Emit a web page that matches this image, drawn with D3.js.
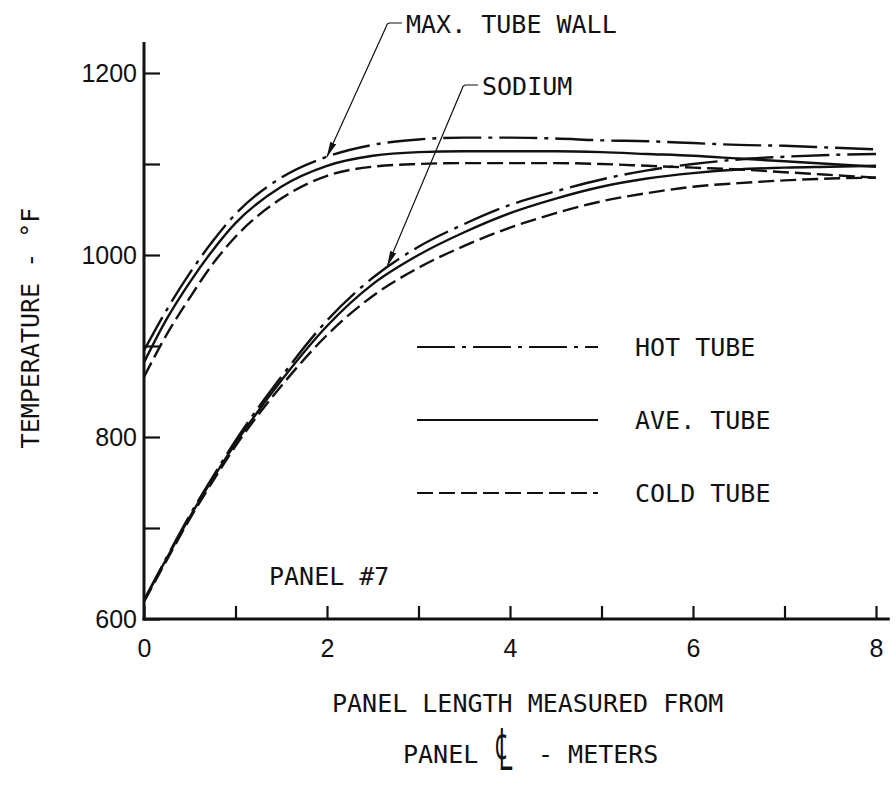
<!DOCTYPE html>
<html>
<head>
<meta charset="utf-8">
<script src="https://cdn.jsdelivr.net/npm/d3@7"></script>
<style>
  body { margin: 0; background: #fff; }
  svg { display: block; }
  .lettering { font-family: "DejaVu Sans Mono", monospace; font-size: 25px; fill: #111; }
  .num { font-family: "Liberation Sans", Arial, sans-serif; font-size: 25px; fill: #111; }
</style>
</head>
<body>
<svg width="896" height="786"></svg>
<script>
(function () {
  'use strict';

  const svg = d3.select('svg');

  // panel length, meters
  const panelX = [0, 0.25, 0.5, 0.75, 1, 1.5, 2, 2.5, 3, 3.5, 4, 4.5, 5, 5.5, 6, 6.5, 7, 7.5, 8];

  // max. tube wall temperature, deg F
  const wallHot  = [895, 940, 980, 1015, 1045, 1085, 1108, 1121, 1127, 1129, 1129, 1128, 1126, 1125, 1123, 1121, 1120, 1118, 1116];
  const wallAve  = [882, 930, 970, 1005, 1035, 1075, 1098, 1109, 1113, 1114, 1114, 1114, 1113, 1111, 1109, 1106, 1103, 1100, 1097];
  const wallCold = [866, 913, 953, 990, 1020, 1062, 1087, 1097, 1100, 1101, 1101, 1101, 1100, 1098, 1096, 1094, 1091, 1088, 1085];

  // sodium temperature, deg F
  const naHot  = [621, 668, 714, 756, 796, 866, 928, 975, 1009, 1034, 1055, 1070, 1083, 1093, 1100, 1105, 1108, 1110, 1111];
  const naAve  = [620, 667, 712, 754, 793, 862, 922, 968, 1000, 1025, 1046, 1062, 1075, 1084, 1090, 1094, 1096, 1097, 1098];
  const naCold = [619, 665, 710, 751, 790, 856, 912, 955, 986, 1010, 1030, 1046, 1059, 1068, 1075, 1079, 1082, 1084, 1085];

  const xTicks = [0, 1, 2, 3, 4, 5, 6, 7, 8];
  const xLabels = [0, 2, 4, 6, 8];
  const yTicks = [600, 700, 800, 900, 1000, 1100, 1200];
  const yLabels = [600, 800, 1000, 1200];

  const legendNames = ['HOT TUBE', 'AVE. TUBE', 'COLD TUBE'];
  const dash = { hot: '38,7,4,7', ave: null, cold: '16,6' };

  const x = d3.scaleLinear().domain([0, 8]).range([144, 876]);
  const y = d3.scaleLinear().domain([600, 1200]).range([619, 73]);

  const series = [
    { vals: wallHot, kind: 'hot' }, { vals: wallAve, kind: 'ave' }, { vals: wallCold, kind: 'cold' },
    { vals: naHot, kind: 'hot' }, { vals: naAve, kind: 'ave' }, { vals: naCold, kind: 'cold' }
  ];

  const line = d3.line()
    .x(d => x(d[0]))
    .y(d => y(d[1]))
    .curve(d3.curveMonotoneX);

  svg.selectAll('path.curve').data(series).enter()
    .append('path')
      .attr('class', 'curve')
      .attr('d', s => line(panelX.map((v, i) => [v, s.vals[i]])))
      .attr('fill', 'none')
      .attr('stroke', '#111')
      .attr('stroke-width', 2.4)
      .attr('stroke-dasharray', s => dash[s.kind]);

  // axes
  const yAxisG = svg.append('g')
    .attr('transform', `translate(${x(0)},0)`)
    .call(d3.axisLeft(y).tickValues(yTicks).tickSize(-16).tickPadding(7)
      .tickFormat(d => yLabels.includes(d) ? d : ''));
  const xAxisG = svg.append('g')
    .attr('transform', `translate(0,${y(600)})`)
    .call(d3.axisBottom(x).tickValues(xTicks).tickSize(-13).tickPadding(20)
      .tickFormat(d => xLabels.includes(d) ? d : ''));

  [yAxisG, xAxisG].forEach(g => {
    g.select('.domain').remove();
    g.selectAll('.tick line').attr('stroke', '#111').attr('stroke-width', 2.2);
    g.selectAll('.tick text').attr('class', 'num').attr('fill', '#111');
  });
  xAxisG.selectAll('.tick text').attr('dy', '0.71em');

  svg.append('line')
    .attr('x1', x(0)).attr('x2', x(0))
    .attr('y1', y(600) + 1.5).attr('y2', y(1234))
    .attr('stroke', '#111').attr('stroke-width', 3);
  svg.append('line')
    .attr('x1', x(0) - 1.5).attr('x2', x(8.15))
    .attr('y1', y(600)).attr('y2', y(600))
    .attr('stroke', '#111').attr('stroke-width', 3);

  // axis titles
  svg.append('text')
    .attr('class', 'lettering')
    .attr('text-anchor', 'middle')
    .attr('transform', 'translate(39,328) rotate(-90)')
    .text('TEMPERATURE - °F');

  svg.append('text').attr('class', 'lettering')
    .attr('x', 332).attr('y', 712)
    .text('PANEL LENGTH MEASURED FROM');
  svg.append('text').attr('class', 'lettering')
    .attr('x', 403).attr('y', 763)
    .text('PANEL');
  svg.append('text').attr('class', 'lettering')
    .attr('text-anchor', 'middle')
    .attr('transform', 'translate(504,770) scale(1.25,2.35)')
    .text('\u2104');
  svg.append('text').attr('class', 'lettering')
    .attr('x', 538).attr('y', 763)
    .text('- METERS');

  svg.append('text').attr('class', 'lettering')
    .attr('x', 269).attr('y', 585)
    .text('PANEL #7');

  // legend
  const legend = svg.selectAll('g.legend').data(legendNames).enter()
    .append('g')
      .attr('class', 'legend')
      .attr('transform', (d, i) => `translate(0,${347 + i * 73})`);
  legend.append('line')
    .attr('x1', 417).attr('x2', 598)
    .attr('stroke', '#111').attr('stroke-width', 2.2)
    .attr('stroke-dasharray', (d, i) => dash[['hot', 'ave', 'cold'][i]]);
  legend.append('text')
    .attr('class', 'lettering')
    .attr('x', 635).attr('y', 9)
    .text(d => d);

  // call-outs
  svg.append('defs').append('marker')
    .attr('id', 'arrow')
    .attr('markerUnits', 'userSpaceOnUse')
    .attr('viewBox', '0 -4 16 8')
    .attr('refX', 15).attr('refY', 0)
    .attr('markerWidth', 16).attr('markerHeight', 8)
    .attr('orient', 'auto')
    .append('path')
      .attr('d', 'M0,-3.2L16,0L0,3.2Z')
      .attr('fill', '#111');

  const callouts = [
    { label: 'MAX. TUBE WALL', tx: 406, ty: 33, at: [2.0, 1108] },
    { label: 'SODIUM', tx: 482, ty: 95, at: [2.66, 988] }
  ];
  callouts.forEach(c => {
    const hy = c.ty - 10;
    const px = x(c.at[0]), py = y(c.at[1]);
    svg.append('path')
      .attr('d', `M${c.tx - 4},${hy}H${c.tx - 16}Q${c.tx - 19},${hy} ${c.tx - 20},${hy + 4}L${px},${py}`)
      .attr('fill', 'none')
      .attr('stroke', '#111')
      .attr('stroke-width', 1.2)
      .attr('marker-end', 'url(#arrow)');
    svg.append('text')
      .attr('class', 'lettering')
      .attr('x', c.tx).attr('y', c.ty)
      .text(c.label);
  });
}());
</script>
</body>
</html>
